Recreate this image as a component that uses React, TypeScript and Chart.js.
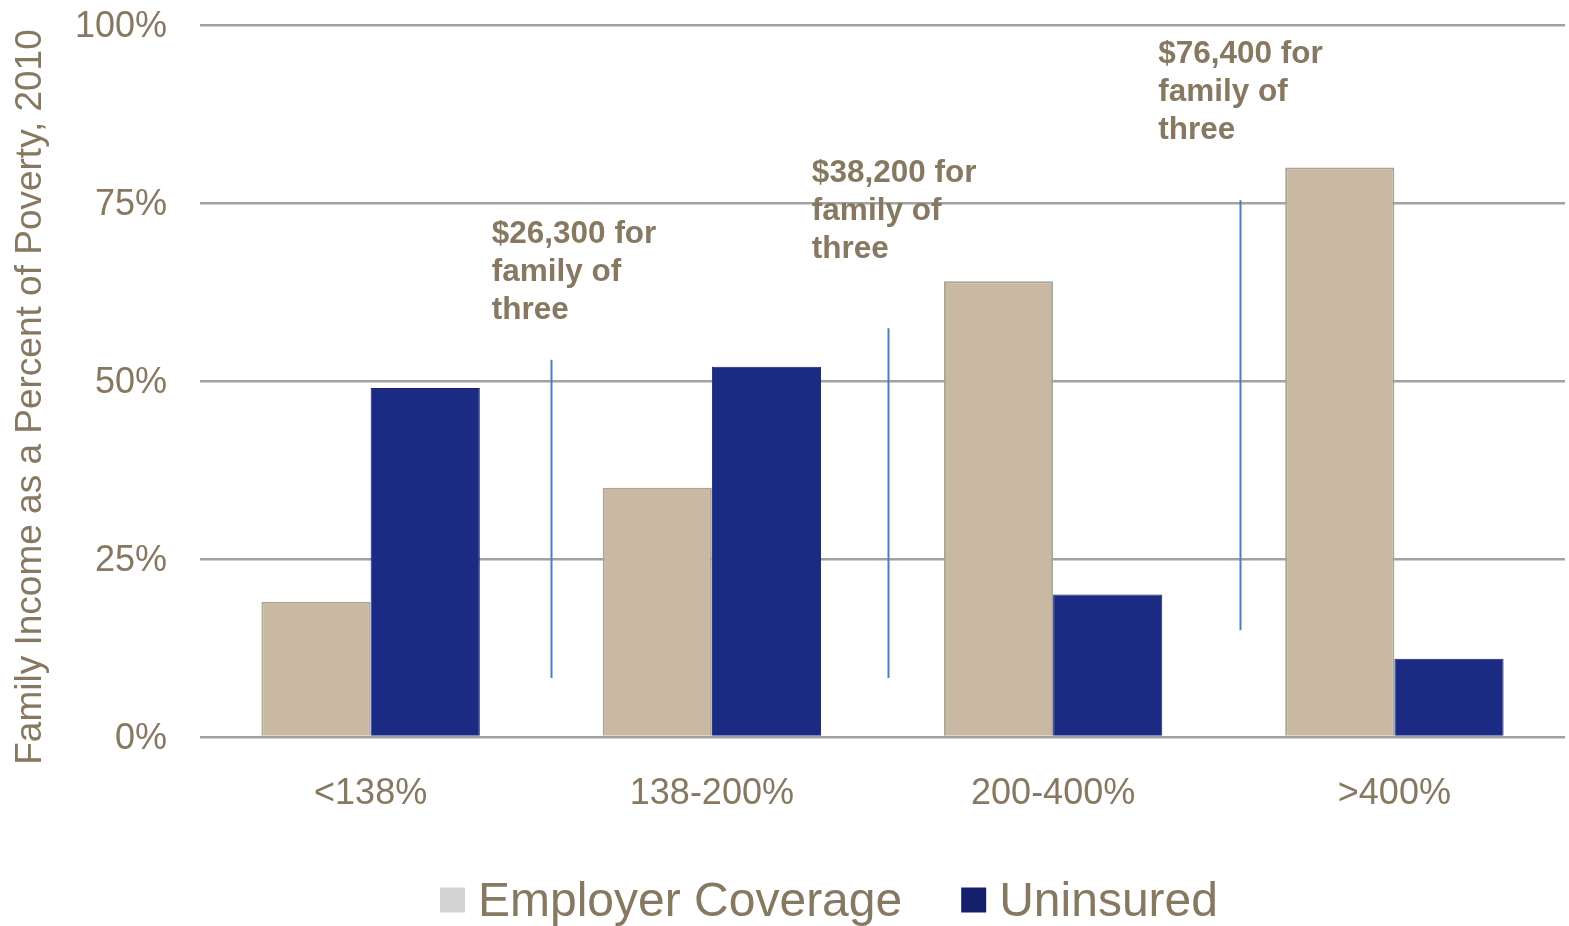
import React, { useEffect, useRef } from "react";
import { Chart, registerables } from "chart.js";

Chart.register(...registerables);

const categories = ["<138%", "138-200%", "200-400%", ">400%"];
const employerCoverage = [19, 35, 64, 80];
const uninsured = [49, 52, 20, 11];
const seriesNames = ["Employer Coverage", "Uninsured"];
const yTickStep = 25;
const yMax = 100;
const axisTitle = "Family Income as a Percent of Poverty, 2010";

// separator lines and notes, in data units (category index, percent)
const separatorX = [0.53, 1.516, 2.548];
const separatorTop = [53, 57.4, 75.4];
const separatorBottom = [8.3, 8.3, 15];
const noteX = [0.355, 1.293, 2.308];
const noteY = [70.6, 79.1, 95.9];
const noteLines = [
  ["$26,300 for", "family of", "three"],
  ["$38,200 for", "family of", "three"],
  ["$76,400 for", "family of", "three"],
];

const FONT = "'Liberation Sans', Arial, sans-serif";
const TEXT = "#877861";
const EMP = "#c9b9a3";
const EMP_BORDER = "#aaa595";
const UNI = "#1b2a82";
const UNI_BORDER = "#15206c";
const LEGEND_COLORS = ["#d3d3d3", "#14206a"];

const overlayPlugin = {
  id: "overlay",
  afterDraw(chart: any) {
    const { ctx, chartArea, scales } = chart;
    const xs = scales.x;
    const ys = scales.y;
    ctx.save();
    // separators
    ctx.strokeStyle = "#4a7fc1";
    ctx.lineWidth = 2;
    separatorX.forEach((sx, i) => {
      const px = Math.round(xs.getPixelForValue(sx)) + 0.5;
      ctx.beginPath();
      ctx.moveTo(px, ys.getPixelForValue(separatorTop[i]));
      ctx.lineTo(px, ys.getPixelForValue(separatorBottom[i]));
      ctx.stroke();
    });
    // notes
    ctx.fillStyle = TEXT;
    ctx.font = `bold 31.5px ${FONT}`;
    ctx.textAlign = "left";
    ctx.textBaseline = "middle";
    noteLines.forEach((lines, i) => {
      const px = xs.getPixelForValue(noteX[i]);
      const py = ys.getPixelForValue(noteY[i]);
      lines.forEach((t, j) => ctx.fillText(t, px, py + j * 38));
    });
    // y-axis title
    ctx.save();
    ctx.translate(31, (chartArea.top + chartArea.bottom) / 2 + 16);
    ctx.rotate(-Math.PI / 2);
    ctx.font = `37px ${FONT}`;
    ctx.textAlign = "center";
    ctx.textBaseline = "middle";
    ctx.fillText(axisTitle, 0, 0);
    ctx.restore();
    // legend
    ctx.font = `48px ${FONT}`;
    ctx.textAlign = "left";
    ctx.textBaseline = "alphabetic";
    let x = 440;
    const cy = 900;
    seriesNames.forEach((name, i) => {
      ctx.fillStyle = LEGEND_COLORS[i];
      ctx.fillRect(x, cy - 12.5, 25, 25);
      ctx.fillStyle = TEXT;
      ctx.fillText(name, x + 38, cy + 16);
      x += 38 + ctx.measureText(name).width + 59;
    });
    ctx.restore();
  },
};

export default function App() {
  const ref = useRef<HTMLCanvasElement | null>(null);
  useEffect(() => {
    if (!ref.current) return;
    const chart = new Chart(ref.current, {
      type: "bar",
      data: {
        labels: categories,
        datasets: [
          {
            label: seriesNames[0],
            data: employerCoverage,
            backgroundColor: EMP,
            borderColor: EMP_BORDER,
            borderWidth: 2,
          },
          {
            label: seriesNames[1],
            data: uninsured,
            backgroundColor: UNI,
            borderColor: UNI_BORDER,
            borderWidth: 1,
          },
        ],
      },
      options: {
        animation: false,
        responsive: false,
        devicePixelRatio: 1,
        layout: { padding: { top: 25, right: 4, left: 0, bottom: 0 } },
        datasets: { bar: { categoryPercentage: 0.64, barPercentage: 1 } },
        plugins: {
          legend: { display: false },
          tooltip: { enabled: false },
          title: { display: false },
        },
        scales: {
          x: {
            grid: { display: false },
            border: { display: false },
            ticks: {
              color: TEXT,
              font: { family: FONT, size: 36 },
              padding: 27,
              maxRotation: 0,
            },
            afterFit: (s: any) => {
              s.height = 189;
            },
          },
          y: {
            min: 0,
            max: yMax,
            border: { display: false },
            grid: { color: "#a2a2a2", lineWidth: 2.5, drawTicks: false },
            ticks: {
              stepSize: yTickStep,
              color: TEXT,
              font: { family: FONT, size: 36 },
              padding: 33,
              labelOffset: 2,
              callback: (v: any) => `${v}%`,
            },
            afterFit: (s: any) => {
              s.width = 200;
              s.paddingTop = 0;
              s.paddingBottom = 0;
            },
          },
        },
      },
      plugins: [overlayPlugin],
    } as any);
    return () => chart.destroy();
  }, []);
  return (
    <div style={{ position: "absolute", left: 0, top: 0, width: 1569, height: 926, background: "#fff" }}>
      <canvas ref={ref} width={1569} height={926} />
    </div>
  );
}
